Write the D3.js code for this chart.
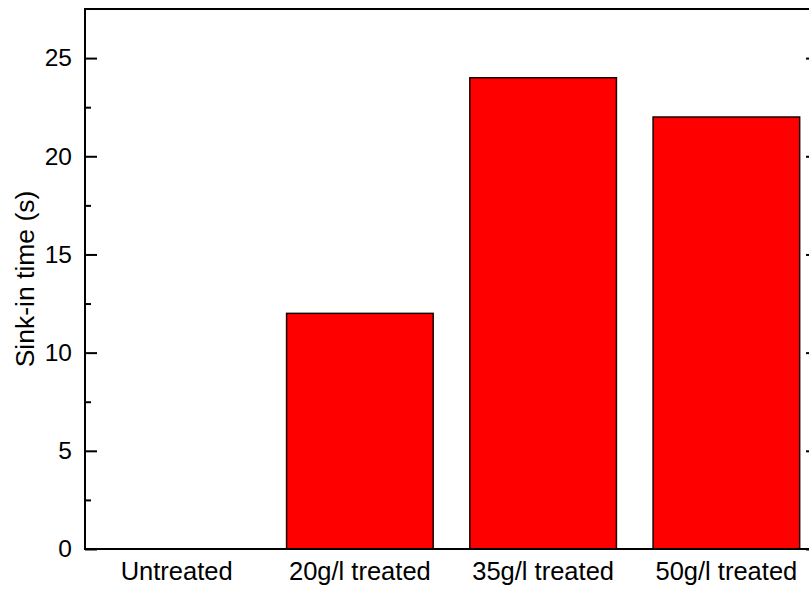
<!DOCTYPE html>
<html>
<head>
<meta charset="utf-8">
<script src="https://cdn.jsdelivr.net/npm/d3@7"></script>
<style>
  html, body { margin: 0; padding: 0; background: #fff; overflow: hidden; }
  svg { display: block; }
  text { font-family: Arial, "Liberation Sans", Helvetica, sans-serif; fill: #000; }
</style>
</head>
<body>
<svg id="chart" width="809" height="590"></svg>
<script>
// Sink-in time per treatment
const categories = ["Untreated", "20g/l treated", "35g/l treated", "50g/l treated"];
const sinkTimes = [0, 12, 24, 22];
const yTicks = [0, 5, 10, 15, 20, 25];
const yMinorTicks = [2.5, 7.5, 12.5, 17.5, 22.5];

const svg = d3.select("#chart");
const margin = { left: 85, top: 9, bottom: 41 };
const plotW = 733;   // frame continues past the right edge of the page
const plotH = 590 - margin.top - margin.bottom;

const g = svg.append("g").attr("transform", `translate(${margin.left},${margin.top})`);

const x = d3.scaleBand().domain(categories).range([0, plotW]).paddingInner(0.2).paddingOuter(0.1);
const y = d3.scaleLinear().domain([0, 27.5]).range([plotH, 0]);

// bars
g.selectAll("rect.bar")
  .data(categories.map((c, i) => ({ c, v: sinkTimes[i] })))
  .join("rect")
  .attr("class", "bar")
  .attr("x", d => x(d.c))
  .attr("width", x.bandwidth())
  .attr("y", d => y(d.v))
  .attr("height", d => y(0) - y(d.v))
  .attr("fill", "#ff0000")
  .attr("stroke", "#1a0000")
  .attr("stroke-width", d => d.v > 0 ? 1.5 : 0);

// left axis: major ticks with labels, pointing inward
const left = g.append("g")
  .call(d3.axisLeft(y).tickValues(yTicks).tickSize(-12).tickPadding(13).tickFormat(d3.format("d")));
left.select(".domain").remove();
left.selectAll(".tick line").attr("stroke", "#000").attr("stroke-width", 2);
left.selectAll(".tick text").attr("font-size", 24.5).style("font-family", "Arial, 'Liberation Sans', sans-serif");

// left minor ticks
g.append("g")
  .call(d3.axisLeft(y).tickValues(yMinorTicks).tickSize(-6).tickFormat(""))
  .call(s => s.select(".domain").remove())
  .selectAll(".tick line").attr("stroke", "#000").attr("stroke-width", 2);

// right axis ticks (inward)
const right = g.append("g").attr("transform", `translate(${plotW},0)`)
  .call(d3.axisRight(y).tickValues(yTicks).tickSize(-12).tickFormat(""));
right.select(".domain").remove();
right.selectAll(".tick line").attr("stroke", "#000").attr("stroke-width", 2);
g.append("g").attr("transform", `translate(${plotW},0)`)
  .call(d3.axisRight(y).tickValues(yMinorTicks).tickSize(-6).tickFormat(""))
  .call(s => s.select(".domain").remove())
  .selectAll(".tick line").attr("stroke", "#000").attr("stroke-width", 2);

// bottom category labels
const bottom = g.append("g").attr("transform", `translate(0,${plotH})`)
  .call(d3.axisBottom(x).tickSize(0).tickPadding(13));
bottom.select(".domain").remove();
bottom.selectAll(".tick text").attr("font-size", 25.5).style("font-family", "Arial, 'Liberation Sans', sans-serif");

// frame
g.append("rect")
  .attr("x", 0).attr("y", 0).attr("width", plotW).attr("height", plotH)
  .attr("fill", "none").attr("stroke", "#000").attr("stroke-width", 2);

// y-axis title
svg.append("text")
  .attr("transform", `translate(34,${margin.top + plotH / 2}) rotate(-90)`)
  .attr("text-anchor", "middle")
  .attr("font-size", 26.5)
  .text("Sink-in time (s)");
</script>
</body>
</html>
